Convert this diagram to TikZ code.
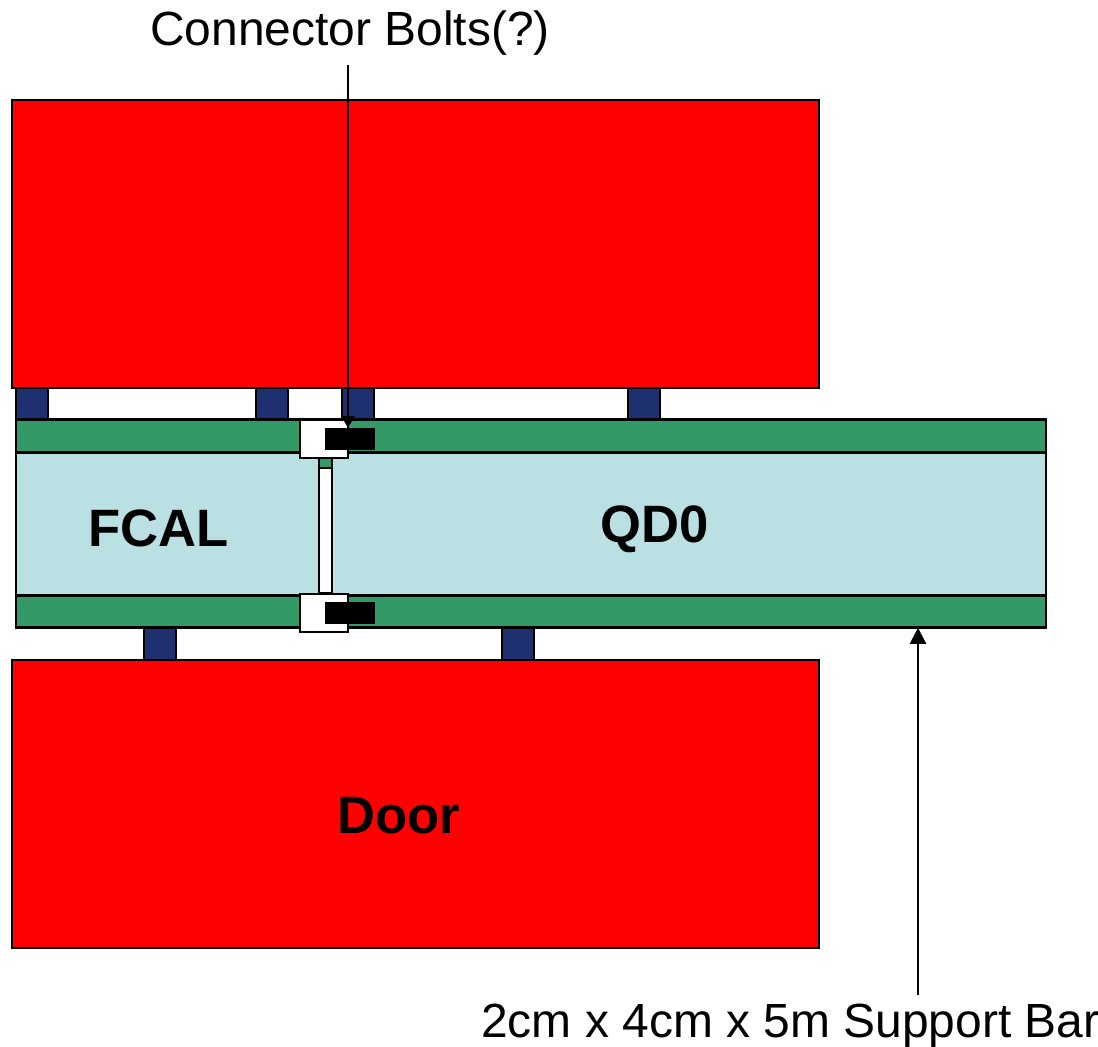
\documentclass[tikz,border=0pt]{standalone}
\usepackage{fontspec}
\setmainfont{Liberation Sans}
\usetikzlibrary{arrows.meta}
\definecolor{doorred}{HTML}{FF0000}
\definecolor{padblue}{HTML}{1F3070}
\definecolor{bargreen}{HTML}{339966}
\definecolor{magnetcyan}{HTML}{BBE0E3}
\tikzset{
  partbox/.style={draw=black, line width=2.6pt, inner sep=0pt, outer sep=0pt},
  doorbox/.style={partbox, fill=doorred, minimum width=807pt, minimum height=288pt},
  padbox/.style={partbox, fill=padblue, minimum width=32pt, minimum height=32pt},
  barbox/.style={partbox, fill=bargreen, minimum width=1030pt, minimum height=32.5pt},
  magnetbox/.style={partbox, fill=magnetcyan, minimum width=1030pt, minimum height=143pt},
  clampbox/.style={partbox, fill=white, minimum width=48pt, minimum height=38pt},
  boltbox/.style={fill=black, inner sep=0pt, outer sep=0pt, minimum width=50pt, minimum height=22pt},
  bigtext/.style={inner sep=0pt, anchor=base, font=\fontsize{52.6}{53}\selectfont\bfseries},
  notetext/.style={inner sep=0pt, anchor=base west, font=\fontsize{47.95}{48}\selectfont},
  notearrow/.style={-{Triangle[length=12pt,width=13pt]}, line width=2pt, draw=black},
  bararrow/.style={-{Triangle[length=16pt,width=16pt]}, line width=2pt, draw=black}
}
\begin{document}
\begin{tikzpicture}[x=1pt, y=-1pt]
  \useasboundingbox (0,0) rectangle (1098,1047);
  \node[doorbox] (topdoor) at (415.5,244) {};
  \node[doorbox] (door) at (415.5,804) {};
  \node[padbox] (pada) at (32,404) {};
  \node[padbox] (padb) at (272,404) {};
  \node[padbox] (padc) at (358,404) {};
  \node[padbox] (padd) at (644,404) {};
  \node[padbox] (pade) at (160,644) {};
  \node[padbox] (padf) at (518,644) {};
  \node[magnetbox] (magnet) at (531,523.5) {};
  \node[barbox] (topbar) at (531,436) {};
  \node[barbox] (lowerbar) at (531,611.5) {};
  \node[partbox, fill=bargreen, minimum width=13pt, minimum height=10pt] (link) at (325.5,463) {};
  \node[partbox, fill=white, minimum width=13pt, minimum height=125pt] (strut) at (325.5,530.5) {};
  \node[clampbox] (topclamp) at (324,439) {};
  \node[clampbox] (lowerclamp) at (324,613) {};
  \node[boltbox] (topbolt) at (350,439) {};
  \node[boltbox] (lowerbolt) at (350,613) {};
  \node[bigtext] (fcal) at (158.8,546) {FCAL};
  \node[bigtext] (qdzero) at (654.6,542) {QD0};
  \node[bigtext] (doorlabel) at (398.6,833) {Door};
  \node[notetext] (boltlabel) at (150,45) {Connector Bolts(?)};
  \node[notetext] (barlabel) at (481,1037) {2cm x 4cm x 5m Support Bar};
  \coordinate (boltstart) at (348,65);
  \coordinate (barstart) at (918,995);
  \draw[notearrow] (boltstart) -- (boltstart |- topbolt.north);
  \draw[bararrow] (barstart) -- (barstart |- lowerbar.south);
\end{tikzpicture}
\end{document}
